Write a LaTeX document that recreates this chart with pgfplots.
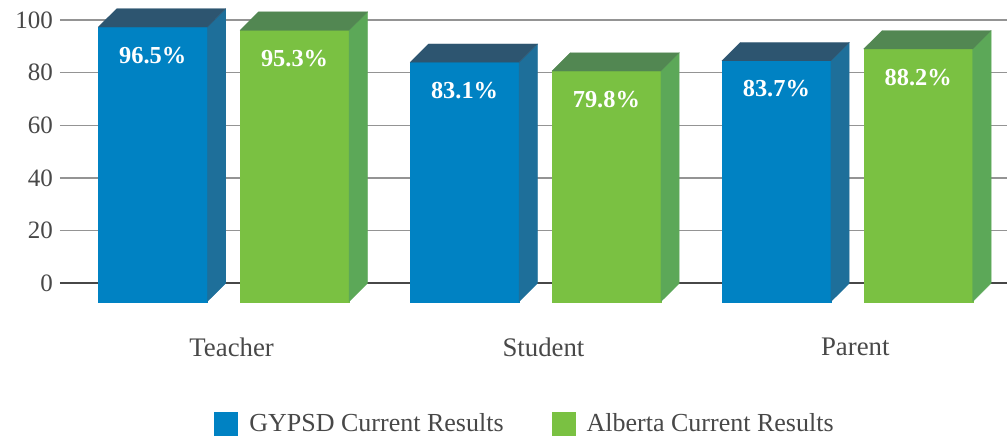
\documentclass[border=0pt]{standalone}
\usepackage{fontspec}
\setmainfont{Liberation Serif}
\usepackage{pgfplots}
\pgfplotsset{compat=1.18}

\definecolor{gypsdFront}{RGB}{0,130,195}
\definecolor{gypsdSide}{RGB}{30,111,154}
\definecolor{gypsdTop}{RGB}{45,85,112}
\definecolor{abFront}{RGB}{122,193,66}
\definecolor{abSide}{RGB}{92,168,88}
\definecolor{abTop}{RGB}{82,135,82}
\definecolor{txt}{RGB}{72,72,72}

% one 3-D bar: #1 x centre, #2 value, #3 front, #4 side, #5 top colour
\newcommand{\cubebar}[5]{%
  \pgfmathsetmacro\bxl{#1-0.1748}%
  \pgfmathsetmacro\bxr{#1+0.1748}%
  \pgfmathsetmacro\bxd{#1+0.1748+0.0593}%
  \pgfmathsetmacro\bxld{#1-0.1748+0.0593}%
  \pgfmathsetmacro\byt{#2+0.8}%
  \pgfmathsetmacro\bytd{#2+0.8+7}%
  \addplot[fill=#3, draw=#3, line width=0.1pt, forget plot]
    coordinates {(\bxl,-7) (\bxr,-7) (\bxr,\byt) (\bxl,\byt)} -- cycle;
  \addplot[fill=#4, draw=#4, line width=0.1pt, forget plot]
    coordinates {(\bxr,-7) (\bxd,0) (\bxd,\bytd) (\bxr,\byt)} -- cycle;
  \addplot[fill=#5, draw=#5, line width=0.1pt, forget plot]
    coordinates {(\bxl,\byt) (\bxr,\byt) (\bxd,\bytd) (\bxld,\bytd)} -- cycle;
}

\begin{document}
\begin{tikzpicture}
\begin{axis}[
  name=ax,
  scale only axis,
  width=473.5pt, height=131.65pt,
  xmin=-0.5249, xmax=2.5123,
  ymin=0, ymax=100,
  clip=false,
  axis line style={draw=none},
  major tick length=0pt,
  ytick={0,20,...,100},
  xtick={0,1,2},
  xticklabels={Teacher,Student,Parent},
  ymajorgrids,
  grid style={draw=black!42, line width=0.65pt},
  no markers,
  /pgf/number format/assume math mode=true,
  yticklabel style={font=\fontsize{12.5}{14}\selectfont, text=txt},
  xticklabel style={font=\fontsize{13.4}{15}\selectfont, text=txt,
    anchor=center, xshift=4pt, yshift=-32pt},
  legend style={at={(0.4921,0)}, anchor=center, yshift=-70.35pt,
    draw=none, fill=none, legend columns=2,
    font=\fontsize{13}{15}\selectfont, text=txt,
    /tikz/every odd column/.append style={column sep=3.5pt},
    /tikz/every even column/.append style={column sep=22pt}},
  legend cell align=left,
  legend image code/.code={\fill[#1] (0pt,-6pt) rectangle (12pt,6pt);},
]
\addlegendimage{fill=gypsdFront, draw=none}
\addlegendentry{GYPSD Current Results}
\addlegendimage{fill=abFront, draw=none}
\addlegendentry{Alberta Current Results}

% darker zero line
\addplot[draw=black!72, line width=1.1pt, forget plot]
  coordinates {(-0.5249,0) (2.5123,0)};

% GYPSD
\cubebar{-0.2274}{96.5}{gypsdFront}{gypsdSide}{gypsdTop}
\cubebar{0.7726}{83.1}{gypsdFront}{gypsdSide}{gypsdTop}
\cubebar{1.7726}{83.7}{gypsdFront}{gypsdSide}{gypsdTop}
% Alberta
\cubebar{0.2274}{95.3}{abFront}{abSide}{abTop}
\cubebar{1.2274}{79.8}{abFront}{abSide}{abTop}
\cubebar{2.2274}{88.2}{abFront}{abSide}{abTop}

% value labels
\addplot[draw=none, forget plot,
  nodes near coords={\pgfmathprintnumber[fixed,fixed zerofill,precision=1]{\pgfplotspointmeta}\%},
  every node near coord/.append style={anchor=center, yshift=-13pt,
    text=white, font=\bfseries\fontsize{12.2}{14}\selectfont}]
  coordinates {(-0.2274,96.5) (0.7726,83.1) (1.7726,83.7)
               (0.2274,95.3) (1.2274,79.8) (2.2274,88.2)};
\end{axis}
\pgfresetboundingbox
\path ([xshift=-30pt,yshift=-77.35pt]ax.south west) rectangle ([yshift=141.65pt]ax.south east);
\end{tikzpicture}
\end{document}
